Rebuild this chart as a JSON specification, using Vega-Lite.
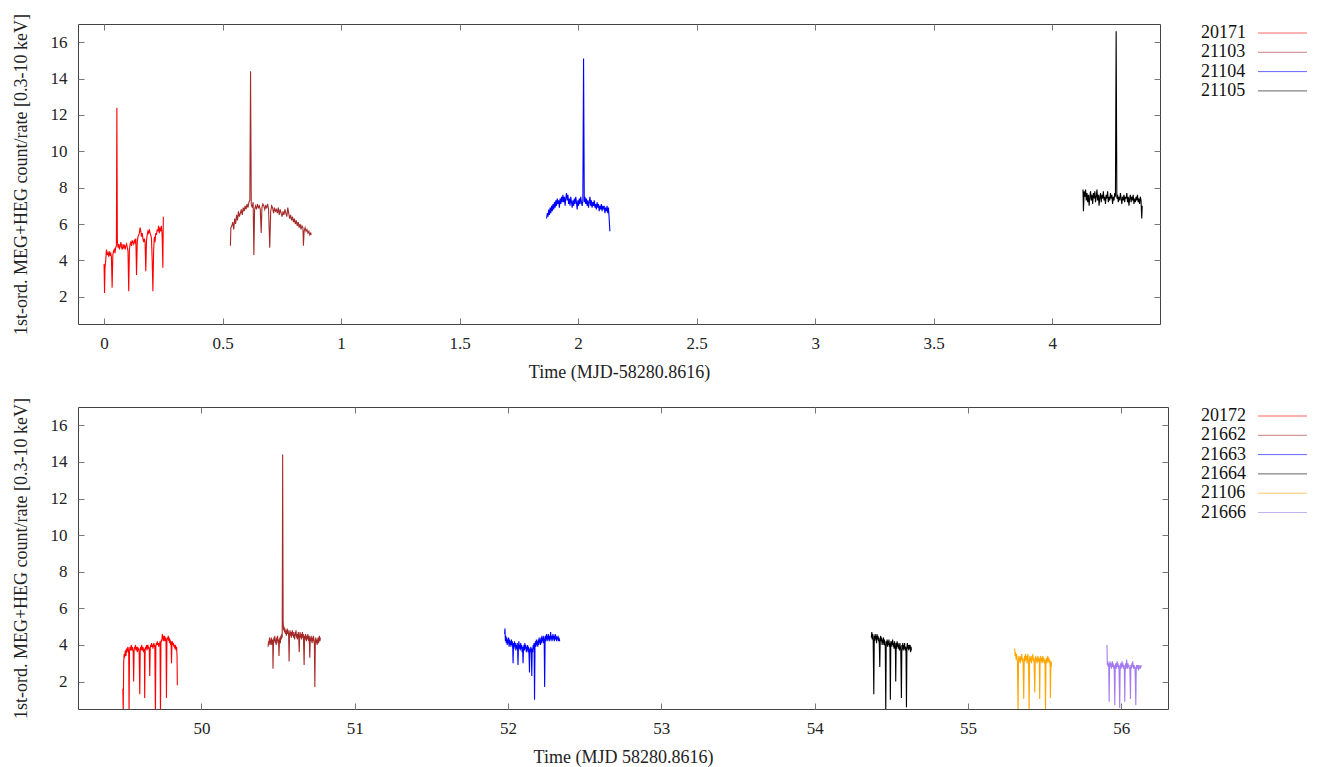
{
"$schema":"https://vega.github.io/schema/vega-lite/v6.json",
"padding":{"left":11,"top":12,"right":5,"bottom":5},
"config":{
 "font":"Liberation Serif",
 "view":{"stroke":"#444","strokeWidth":1},
 "style":{"guide-label":{"font":"Liberation Serif","fontSize":17,"fill":"#222"},"guide-title":{"font":"Liberation Serif","fontSize":18,"fontWeight":"normal","fill":"#222"}},
 "axis":{"grid":false,"domain":false,"tickColor":"#777","tickSize":-6,"labelFont":"Liberation Serif","titleFont":"Liberation Serif","labelFontSize":17,"titleFontSize":18,"titleFontWeight":"normal","labelColor":"#222","titleColor":"#222","labelPadding":17},
 "legend":{"title":null,"symbolType":"M14.0,0H23.8","symbolSize":100,"symbolStrokeWidth":1,"symbolOpacity":0.6,"labelFont":"Liberation Serif","labelFontSize":18,"labelColor":"#111","rowPadding":1.3,"padding":0,"labelOffset":4}
},
"datasets":{
"top":[
{"s":"20171","t":0.000,"r":3.8},{"s":"20171","t":0.002,"r":2.2},{"s":"20171","t":0.004,"r":3.6},{"s":"20171","t":0.007,"r":4.0},{"s":"20171","t":0.010,"r":4.6},{"s":"20171","t":0.013,"r":4.3},{"s":"20171","t":0.016,"r":4.4},{"s":"20171","t":0.019,"r":4.2},{"s":"20171","t":0.022,"r":4.5},{"s":"20171","t":0.025,"r":4.3},{"s":"20171","t":0.028,"r":4.4},{"s":"20171","t":0.031,"r":4.2},{"s":"20171","t":0.034,"r":2.5},{"s":"20171","t":0.037,"r":4.3},{"s":"20171","t":0.040,"r":4.5},{"s":"20171","t":0.043,"r":4.6},{"s":"20171","t":0.046,"r":4.4},{"s":"20171","t":0.049,"r":4.7},{"s":"20171","t":0.052,"r":4.8},{"s":"20171","t":0.054,"r":12.4},{"s":"20171","t":0.056,"r":5.1},{"s":"20171","t":0.059,"r":4.7},{"s":"20171","t":0.062,"r":4.9},{"s":"20171","t":0.065,"r":4.6},{"s":"20171","t":0.068,"r":4.8},{"s":"20171","t":0.071,"r":5.0},{"s":"20171","t":0.074,"r":4.7},{"s":"20171","t":0.077,"r":4.6},{"s":"20171","t":0.080,"r":4.9},{"s":"20171","t":0.083,"r":4.7},{"s":"20171","t":0.086,"r":4.8},{"s":"20171","t":0.089,"r":4.6},{"s":"20171","t":0.092,"r":4.8},{"s":"20171","t":0.095,"r":4.9},{"s":"20171","t":0.098,"r":4.7},{"s":"20171","t":0.101,"r":4.5},{"s":"20171","t":0.104,"r":2.3},{"s":"20171","t":0.107,"r":4.6},{"s":"20171","t":0.110,"r":4.9},{"s":"20171","t":0.113,"r":5.0},{"s":"20171","t":0.116,"r":4.8},{"s":"20171","t":0.119,"r":5.1},{"s":"20171","t":0.122,"r":5.0},{"s":"20171","t":0.125,"r":4.9},{"s":"20171","t":0.128,"r":5.1},{"s":"20171","t":0.131,"r":5.0},{"s":"20171","t":0.134,"r":5.2},{"s":"20171","t":0.137,"r":3.2},{"s":"20171","t":0.140,"r":5.0},{"s":"20171","t":0.143,"r":5.3},{"s":"20171","t":0.146,"r":5.4},{"s":"20171","t":0.149,"r":5.5},{"s":"20171","t":0.152,"r":5.8},{"s":"20171","t":0.155,"r":5.6},{"s":"20171","t":0.158,"r":5.3},{"s":"20171","t":0.161,"r":5.5},{"s":"20171","t":0.164,"r":5.2},{"s":"20171","t":0.167,"r":5.0},{"s":"20171","t":0.170,"r":5.2},{"s":"20171","t":0.173,"r":5.0},{"s":"20171","t":0.176,"r":3.4},{"s":"20171","t":0.179,"r":5.1},{"s":"20171","t":0.182,"r":5.4},{"s":"20171","t":0.185,"r":5.6},{"s":"20171","t":0.188,"r":5.5},{"s":"20171","t":0.191,"r":5.7},{"s":"20171","t":0.194,"r":5.5},{"s":"20171","t":0.197,"r":5.4},{"s":"20171","t":0.200,"r":5.2},{"s":"20171","t":0.203,"r":4.0},{"s":"20171","t":0.206,"r":2.3},{"s":"20171","t":0.209,"r":4.5},{"s":"20171","t":0.212,"r":5.3},{"s":"20171","t":0.215,"r":5.0},{"s":"20171","t":0.218,"r":5.5},{"s":"20171","t":0.221,"r":5.4},{"s":"20171","t":0.224,"r":5.7},{"s":"20171","t":0.227,"r":5.6},{"s":"20171","t":0.230,"r":5.9},{"s":"20171","t":0.233,"r":5.5},{"s":"20171","t":0.236,"r":5.8},{"s":"20171","t":0.239,"r":5.6},{"s":"20171","t":0.242,"r":5.9},{"s":"20171","t":0.245,"r":5.4},{"s":"20171","t":0.248,"r":3.6},{"s":"20171","t":0.250,"r":6.4},
{"s":"21103","t":0.533,"r":4.8},{"s":"21103","t":0.535,"r":5.8},{"s":"21103","t":0.539,"r":5.9},{"s":"21103","t":0.543,"r":6.1},{"s":"21103","t":0.547,"r":5.7},{"s":"21103","t":0.551,"r":6.3},{"s":"21103","t":0.555,"r":6.0},{"s":"21103","t":0.559,"r":6.5},{"s":"21103","t":0.563,"r":6.2},{"s":"21103","t":0.567,"r":6.7},{"s":"21103","t":0.571,"r":6.4},{"s":"21103","t":0.575,"r":6.6},{"s":"21103","t":0.579,"r":6.8},{"s":"21103","t":0.583,"r":6.5},{"s":"21103","t":0.587,"r":6.9},{"s":"21103","t":0.591,"r":6.7},{"s":"21103","t":0.595,"r":7.0},{"s":"21103","t":0.599,"r":6.8},{"s":"21103","t":0.603,"r":7.1},{"s":"21103","t":0.607,"r":6.9},{"s":"21103","t":0.611,"r":7.2},{"s":"21103","t":0.615,"r":7.3},{"s":"21103","t":0.618,"r":14.4},{"s":"21103","t":0.621,"r":7.1},{"s":"21103","t":0.625,"r":6.9},{"s":"21103","t":0.629,"r":7.2},{"s":"21103","t":0.632,"r":4.3},{"s":"21103","t":0.635,"r":6.8},{"s":"21103","t":0.639,"r":7.0},{"s":"21103","t":0.643,"r":6.8},{"s":"21103","t":0.647,"r":7.1},{"s":"21103","t":0.651,"r":6.9},{"s":"21103","t":0.655,"r":7.0},{"s":"21103","t":0.659,"r":6.8},{"s":"21103","t":0.663,"r":5.5},{"s":"21103","t":0.666,"r":6.9},{"s":"21103","t":0.670,"r":7.1},{"s":"21103","t":0.674,"r":7.0},{"s":"21103","t":0.678,"r":6.8},{"s":"21103","t":0.682,"r":7.0},{"s":"21103","t":0.686,"r":6.9},{"s":"21103","t":0.690,"r":7.1},{"s":"21103","t":0.694,"r":6.8},{"s":"21103","t":0.699,"r":4.7},{"s":"21103","t":0.703,"r":6.7},{"s":"21103","t":0.707,"r":7.0},{"s":"21103","t":0.711,"r":6.9},{"s":"21103","t":0.715,"r":6.6},{"s":"21103","t":0.719,"r":6.9},{"s":"21103","t":0.723,"r":6.7},{"s":"21103","t":0.727,"r":6.8},{"s":"21103","t":0.731,"r":6.6},{"s":"21103","t":0.735,"r":6.9},{"s":"21103","t":0.739,"r":6.5},{"s":"21103","t":0.743,"r":6.8},{"s":"21103","t":0.747,"r":6.6},{"s":"21103","t":0.751,"r":6.4},{"s":"21103","t":0.755,"r":6.7},{"s":"21103","t":0.759,"r":6.5},{"s":"21103","t":0.763,"r":6.8},{"s":"21103","t":0.767,"r":6.6},{"s":"21103","t":0.771,"r":6.4},{"s":"21103","t":0.775,"r":6.9},{"s":"21103","t":0.779,"r":6.6},{"s":"21103","t":0.783,"r":6.3},{"s":"21103","t":0.787,"r":6.5},{"s":"21103","t":0.791,"r":6.2},{"s":"21103","t":0.795,"r":6.4},{"s":"21103","t":0.799,"r":6.1},{"s":"21103","t":0.803,"r":6.3},{"s":"21103","t":0.807,"r":6.0},{"s":"21103","t":0.811,"r":6.2},{"s":"21103","t":0.815,"r":5.9},{"s":"21103","t":0.819,"r":6.1},{"s":"21103","t":0.823,"r":5.8},{"s":"21103","t":0.827,"r":6.0},{"s":"21103","t":0.831,"r":5.7},{"s":"21103","t":0.835,"r":5.9},{"s":"21103","t":0.839,"r":5.8},{"s":"21103","t":0.841,"r":4.8},{"s":"21103","t":0.844,"r":5.6},{"s":"21103","t":0.848,"r":5.8},{"s":"21103","t":0.852,"r":5.6},{"s":"21103","t":0.856,"r":5.7},{"s":"21103","t":0.860,"r":5.5},{"s":"21103","t":0.864,"r":5.6},{"s":"21103","t":0.868,"r":5.4},{"s":"21103","t":0.872,"r":5.5},{"s":"21103","t":0.874,"r":5.4},
{"s":"21104","t":1.867,"r":6.3},{"s":"21104","t":1.870,"r":6.6},{"s":"21104","t":1.873,"r":6.4},{"s":"21104","t":1.876,"r":6.8},{"s":"21104","t":1.879,"r":6.5},{"s":"21104","t":1.882,"r":6.9},{"s":"21104","t":1.885,"r":6.6},{"s":"21104","t":1.888,"r":7.0},{"s":"21104","t":1.891,"r":6.7},{"s":"21104","t":1.894,"r":7.1},{"s":"21104","t":1.897,"r":6.8},{"s":"21104","t":1.900,"r":7.2},{"s":"21104","t":1.903,"r":6.9},{"s":"21104","t":1.906,"r":7.3},{"s":"21104","t":1.909,"r":7.0},{"s":"21104","t":1.912,"r":7.4},{"s":"21104","t":1.915,"r":7.1},{"s":"21104","t":1.918,"r":7.3},{"s":"21104","t":1.921,"r":6.9},{"s":"21104","t":1.924,"r":7.4},{"s":"21104","t":1.927,"r":7.1},{"s":"21104","t":1.930,"r":7.5},{"s":"21104","t":1.933,"r":7.2},{"s":"21104","t":1.936,"r":7.6},{"s":"21104","t":1.939,"r":7.2},{"s":"21104","t":1.942,"r":7.5},{"s":"21104","t":1.945,"r":7.0},{"s":"21104","t":1.948,"r":7.4},{"s":"21104","t":1.951,"r":7.7},{"s":"21104","t":1.954,"r":7.3},{"s":"21104","t":1.957,"r":7.6},{"s":"21104","t":1.960,"r":7.1},{"s":"21104","t":1.963,"r":7.4},{"s":"21104","t":1.966,"r":7.0},{"s":"21104","t":1.969,"r":7.5},{"s":"21104","t":1.972,"r":7.2},{"s":"21104","t":1.975,"r":6.9},{"s":"21104","t":1.978,"r":7.3},{"s":"21104","t":1.981,"r":7.0},{"s":"21104","t":1.984,"r":7.4},{"s":"21104","t":1.987,"r":7.1},{"s":"21104","t":1.990,"r":7.5},{"s":"21104","t":1.993,"r":7.2},{"s":"21104","t":1.996,"r":6.8},{"s":"21104","t":1.999,"r":7.3},{"s":"21104","t":2.002,"r":7.0},{"s":"21104","t":2.005,"r":7.4},{"s":"21104","t":2.008,"r":7.1},{"s":"21104","t":2.011,"r":7.5},{"s":"21104","t":2.014,"r":7.2},{"s":"21104","t":2.017,"r":7.0},{"s":"21104","t":2.020,"r":7.3},{"s":"21104","t":2.023,"r":15.1},{"s":"21104","t":2.026,"r":7.2},{"s":"21104","t":2.029,"r":7.5},{"s":"21104","t":2.032,"r":7.1},{"s":"21104","t":2.035,"r":7.4},{"s":"21104","t":2.038,"r":7.0},{"s":"21104","t":2.041,"r":7.3},{"s":"21104","t":2.044,"r":6.9},{"s":"21104","t":2.047,"r":7.2},{"s":"21104","t":2.050,"r":7.5},{"s":"21104","t":2.053,"r":7.0},{"s":"21104","t":2.056,"r":7.3},{"s":"21104","t":2.059,"r":6.9},{"s":"21104","t":2.062,"r":7.2},{"s":"21104","t":2.065,"r":7.0},{"s":"21104","t":2.068,"r":7.3},{"s":"21104","t":2.071,"r":6.9},{"s":"21104","t":2.074,"r":7.1},{"s":"21104","t":2.077,"r":6.8},{"s":"21104","t":2.080,"r":7.2},{"s":"21104","t":2.083,"r":6.9},{"s":"21104","t":2.086,"r":7.1},{"s":"21104","t":2.089,"r":6.7},{"s":"21104","t":2.092,"r":7.0},{"s":"21104","t":2.095,"r":6.8},{"s":"21104","t":2.098,"r":7.1},{"s":"21104","t":2.101,"r":6.7},{"s":"21104","t":2.104,"r":7.0},{"s":"21104","t":2.107,"r":6.8},{"s":"21104","t":2.110,"r":7.0},{"s":"21104","t":2.113,"r":6.6},{"s":"21104","t":2.116,"r":6.9},{"s":"21104","t":2.119,"r":6.7},{"s":"21104","t":2.122,"r":7.0},{"s":"21104","t":2.125,"r":6.6},{"s":"21104","t":2.128,"r":6.9},{"s":"21104","t":2.131,"r":6.3},{"s":"21104","t":2.134,"r":5.6},
{"s":"21105","t":4.130,"r":7.9},{"s":"21105","t":4.132,"r":6.7},{"s":"21105","t":4.135,"r":7.8},{"s":"21105","t":4.138,"r":7.5},{"s":"21105","t":4.141,"r":7.9},{"s":"21105","t":4.144,"r":7.3},{"s":"21105","t":4.147,"r":7.7},{"s":"21105","t":4.150,"r":7.2},{"s":"21105","t":4.153,"r":7.6},{"s":"21105","t":4.156,"r":7.0},{"s":"21105","t":4.159,"r":7.5},{"s":"21105","t":4.162,"r":7.8},{"s":"21105","t":4.165,"r":7.3},{"s":"21105","t":4.168,"r":7.6},{"s":"21105","t":4.171,"r":7.1},{"s":"21105","t":4.174,"r":7.7},{"s":"21105","t":4.177,"r":7.4},{"s":"21105","t":4.180,"r":7.8},{"s":"21105","t":4.183,"r":7.2},{"s":"21105","t":4.186,"r":7.5},{"s":"21105","t":4.189,"r":7.9},{"s":"21105","t":4.192,"r":7.3},{"s":"21105","t":4.195,"r":7.6},{"s":"21105","t":4.198,"r":7.0},{"s":"21105","t":4.201,"r":7.5},{"s":"21105","t":4.204,"r":7.7},{"s":"21105","t":4.207,"r":7.2},{"s":"21105","t":4.210,"r":7.6},{"s":"21105","t":4.213,"r":7.4},{"s":"21105","t":4.216,"r":7.8},{"s":"21105","t":4.219,"r":7.3},{"s":"21105","t":4.222,"r":7.5},{"s":"21105","t":4.225,"r":7.1},{"s":"21105","t":4.228,"r":7.6},{"s":"21105","t":4.231,"r":7.4},{"s":"21105","t":4.234,"r":7.8},{"s":"21105","t":4.237,"r":7.2},{"s":"21105","t":4.240,"r":7.5},{"s":"21105","t":4.243,"r":7.3},{"s":"21105","t":4.246,"r":7.7},{"s":"21105","t":4.249,"r":7.4},{"s":"21105","t":4.252,"r":7.6},{"s":"21105","t":4.255,"r":7.1},{"s":"21105","t":4.258,"r":7.5},{"s":"21105","t":4.261,"r":7.3},{"s":"21105","t":4.264,"r":7.7},{"s":"21105","t":4.267,"r":7.5},{"s":"21105","t":4.270,"r":16.6},{"s":"21105","t":4.273,"r":7.4},{"s":"21105","t":4.276,"r":7.6},{"s":"21105","t":4.279,"r":7.2},{"s":"21105","t":4.282,"r":7.5},{"s":"21105","t":4.285,"r":7.3},{"s":"21105","t":4.288,"r":7.7},{"s":"21105","t":4.291,"r":7.4},{"s":"21105","t":4.294,"r":7.1},{"s":"21105","t":4.297,"r":7.5},{"s":"21105","t":4.300,"r":7.3},{"s":"21105","t":4.303,"r":7.6},{"s":"21105","t":4.306,"r":7.2},{"s":"21105","t":4.309,"r":7.5},{"s":"21105","t":4.312,"r":7.4},{"s":"21105","t":4.315,"r":7.7},{"s":"21105","t":4.318,"r":7.2},{"s":"21105","t":4.321,"r":7.5},{"s":"21105","t":4.324,"r":7.0},{"s":"21105","t":4.327,"r":7.4},{"s":"21105","t":4.330,"r":7.6},{"s":"21105","t":4.333,"r":7.2},{"s":"21105","t":4.336,"r":7.5},{"s":"21105","t":4.339,"r":7.3},{"s":"21105","t":4.342,"r":7.6},{"s":"21105","t":4.345,"r":7.1},{"s":"21105","t":4.348,"r":7.4},{"s":"21105","t":4.351,"r":7.2},{"s":"21105","t":4.354,"r":7.5},{"s":"21105","t":4.357,"r":7.3},{"s":"21105","t":4.360,"r":7.6},{"s":"21105","t":4.363,"r":7.2},{"s":"21105","t":4.366,"r":7.4},{"s":"21105","t":4.369,"r":7.1},{"s":"21105","t":4.372,"r":7.5},{"s":"21105","t":4.375,"r":7.3},{"s":"21105","t":4.378,"r":6.3},{"s":"21105","t":4.380,"r":7.0}
],
"bottom":[
{"s":"20172","t":49.488,"r":1.6},{"s":"20172","t":49.490,"r":0.2},{"s":"20172","t":49.493,"r":3.0},{"s":"20172","t":49.496,"r":3.5},{"s":"20172","t":49.499,"r":3.3},{"s":"20172","t":49.502,"r":3.6},{"s":"20172","t":49.505,"r":3.7},{"s":"20172","t":49.508,"r":3.4},{"s":"20172","t":49.511,"r":3.8},{"s":"20172","t":49.514,"r":3.6},{"s":"20172","t":49.517,"r":3.7},{"s":"20172","t":49.520,"r":3.9},{"s":"20172","t":49.523,"r":3.8},{"s":"20172","t":49.526,"r":3.5},{"s":"20172","t":49.528,"r":0.2},{"s":"20172","t":49.531,"r":3.6},{"s":"20172","t":49.534,"r":3.9},{"s":"20172","t":49.537,"r":3.7},{"s":"20172","t":49.540,"r":3.8},{"s":"20172","t":49.543,"r":4.0},{"s":"20172","t":49.546,"r":3.7},{"s":"20172","t":49.549,"r":3.9},{"s":"20172","t":49.552,"r":3.8},{"s":"20172","t":49.555,"r":3.6},{"s":"20172","t":49.558,"r":2.0},{"s":"20172","t":49.561,"r":3.7},{"s":"20172","t":49.564,"r":3.9},{"s":"20172","t":49.567,"r":3.8},{"s":"20172","t":49.570,"r":4.0},{"s":"20172","t":49.573,"r":3.7},{"s":"20172","t":49.576,"r":3.9},{"s":"20172","t":49.579,"r":3.8},{"s":"20172","t":49.582,"r":3.6},{"s":"20172","t":49.585,"r":3.9},{"s":"20172","t":49.588,"r":3.7},{"s":"20172","t":49.591,"r":3.8},{"s":"20172","t":49.594,"r":3.6},{"s":"20172","t":49.598,"r":1.3},{"s":"20172","t":49.601,"r":3.8},{"s":"20172","t":49.604,"r":3.9},{"s":"20172","t":49.607,"r":3.7},{"s":"20172","t":49.610,"r":4.0},{"s":"20172","t":49.613,"r":3.8},{"s":"20172","t":49.616,"r":3.7},{"s":"20172","t":49.619,"r":3.9},{"s":"20172","t":49.622,"r":3.6},{"s":"20172","t":49.625,"r":3.8},{"s":"20172","t":49.628,"r":3.7},{"s":"20172","t":49.630,"r":1.1},{"s":"20172","t":49.633,"r":3.7},{"s":"20172","t":49.636,"r":3.9},{"s":"20172","t":49.639,"r":3.8},{"s":"20172","t":49.642,"r":4.0},{"s":"20172","t":49.645,"r":3.7},{"s":"20172","t":49.648,"r":3.9},{"s":"20172","t":49.651,"r":4.0},{"s":"20172","t":49.654,"r":3.8},{"s":"20172","t":49.657,"r":3.9},{"s":"20172","t":49.660,"r":3.7},{"s":"20172","t":49.663,"r":2.3},{"s":"20172","t":49.666,"r":3.8},{"s":"20172","t":49.669,"r":4.0},{"s":"20172","t":49.672,"r":3.9},{"s":"20172","t":49.675,"r":4.1},{"s":"20172","t":49.678,"r":3.9},{"s":"20172","t":49.681,"r":4.0},{"s":"20172","t":49.684,"r":3.8},{"s":"20172","t":49.687,"r":4.0},{"s":"20172","t":49.690,"r":4.1},{"s":"20172","t":49.693,"r":3.9},{"s":"20172","t":49.696,"r":4.0},{"s":"20172","t":49.700,"r":0.2},{"s":"20172","t":49.703,"r":3.9},{"s":"20172","t":49.706,"r":4.1},{"s":"20172","t":49.709,"r":4.0},{"s":"20172","t":49.712,"r":4.2},{"s":"20172","t":49.715,"r":4.0},{"s":"20172","t":49.718,"r":4.1},{"s":"20172","t":49.721,"r":3.9},{"s":"20172","t":49.724,"r":4.1},{"s":"20172","t":49.727,"r":4.0},{"s":"20172","t":49.730,"r":4.2},{"s":"20172","t":49.733,"r":0.2},{"s":"20172","t":49.736,"r":4.1},{"s":"20172","t":49.739,"r":4.3},{"s":"20172","t":49.742,"r":4.2},{"s":"20172","t":49.745,"r":4.6},{"s":"20172","t":49.748,"r":4.3},{"s":"20172","t":49.751,"r":4.5},{"s":"20172","t":49.754,"r":4.2},{"s":"20172","t":49.757,"r":4.4},{"s":"20172","t":49.760,"r":4.5},{"s":"20172","t":49.763,"r":4.2},{"s":"20172","t":49.766,"r":4.4},{"s":"20172","t":49.769,"r":4.3},{"s":"20172","t":49.772,"r":1.1},{"s":"20172","t":49.775,"r":4.2},{"s":"20172","t":49.778,"r":4.4},{"s":"20172","t":49.781,"r":4.3},{"s":"20172","t":49.784,"r":4.5},{"s":"20172","t":49.787,"r":4.2},{"s":"20172","t":49.790,"r":4.4},{"s":"20172","t":49.793,"r":4.1},{"s":"20172","t":49.796,"r":4.3},{"s":"20172","t":49.799,"r":4.0},{"s":"20172","t":49.802,"r":4.2},{"s":"20172","t":49.805,"r":3.0},{"s":"20172","t":49.808,"r":4.1},{"s":"20172","t":49.811,"r":4.2},{"s":"20172","t":49.814,"r":4.0},{"s":"20172","t":49.817,"r":4.1},{"s":"20172","t":49.820,"r":3.9},{"s":"20172","t":49.823,"r":4.0},{"s":"20172","t":49.826,"r":3.8},{"s":"20172","t":49.829,"r":4.0},{"s":"20172","t":49.832,"r":3.9},{"s":"20172","t":49.835,"r":3.7},{"s":"20172","t":49.838,"r":3.9},{"s":"20172","t":49.841,"r":3.4},{"s":"20172","t":49.843,"r":1.8},
{"s":"21662","t":50.435,"r":3.9},{"s":"21662","t":50.438,"r":4.2},{"s":"21662","t":50.441,"r":4.0},{"s":"21662","t":50.444,"r":4.4},{"s":"21662","t":50.447,"r":4.1},{"s":"21662","t":50.450,"r":4.3},{"s":"21662","t":50.453,"r":4.0},{"s":"21662","t":50.456,"r":4.4},{"s":"21662","t":50.459,"r":4.2},{"s":"21662","t":50.462,"r":4.0},{"s":"21662","t":50.465,"r":4.3},{"s":"21662","t":50.467,"r":2.7},{"s":"21662","t":50.470,"r":4.1},{"s":"21662","t":50.473,"r":4.4},{"s":"21662","t":50.476,"r":4.2},{"s":"21662","t":50.479,"r":4.5},{"s":"21662","t":50.482,"r":4.1},{"s":"21662","t":50.485,"r":4.3},{"s":"21662","t":50.488,"r":4.0},{"s":"21662","t":50.491,"r":4.4},{"s":"21662","t":50.494,"r":4.2},{"s":"21662","t":50.497,"r":4.5},{"s":"21662","t":50.500,"r":4.1},{"s":"21662","t":50.503,"r":4.3},{"s":"21662","t":50.506,"r":3.4},{"s":"21662","t":50.509,"r":4.2},{"s":"21662","t":50.512,"r":4.4},{"s":"21662","t":50.515,"r":4.1},{"s":"21662","t":50.518,"r":4.5},{"s":"21662","t":50.521,"r":4.3},{"s":"21662","t":50.524,"r":4.6},{"s":"21662","t":50.527,"r":4.4},{"s":"21662","t":50.530,"r":14.4},{"s":"21662","t":50.533,"r":5.3},{"s":"21662","t":50.536,"r":4.8},{"s":"21662","t":50.539,"r":5.0},{"s":"21662","t":50.542,"r":4.7},{"s":"21662","t":50.545,"r":4.9},{"s":"21662","t":50.548,"r":4.6},{"s":"21662","t":50.551,"r":4.8},{"s":"21662","t":50.554,"r":4.5},{"s":"21662","t":50.557,"r":4.7},{"s":"21662","t":50.560,"r":4.9},{"s":"21662","t":50.563,"r":4.6},{"s":"21662","t":50.566,"r":4.8},{"s":"21662","t":50.569,"r":4.5},{"s":"21662","t":50.572,"r":3.1},{"s":"21662","t":50.575,"r":4.6},{"s":"21662","t":50.578,"r":4.8},{"s":"21662","t":50.581,"r":4.5},{"s":"21662","t":50.584,"r":4.7},{"s":"21662","t":50.587,"r":4.4},{"s":"21662","t":50.590,"r":4.6},{"s":"21662","t":50.593,"r":4.8},{"s":"21662","t":50.596,"r":4.5},{"s":"21662","t":50.599,"r":4.7},{"s":"21662","t":50.602,"r":4.4},{"s":"21662","t":50.605,"r":4.6},{"s":"21662","t":50.608,"r":4.3},{"s":"21662","t":50.611,"r":4.7},{"s":"21662","t":50.614,"r":4.5},{"s":"21662","t":50.617,"r":4.8},{"s":"21662","t":50.620,"r":4.4},{"s":"21662","t":50.623,"r":4.6},{"s":"21662","t":50.626,"r":4.3},{"s":"21662","t":50.629,"r":4.5},{"s":"21662","t":50.632,"r":4.7},{"s":"21662","t":50.635,"r":4.4},{"s":"21662","t":50.638,"r":3.6},{"s":"21662","t":50.641,"r":4.5},{"s":"21662","t":50.644,"r":4.7},{"s":"21662","t":50.647,"r":4.4},{"s":"21662","t":50.650,"r":4.6},{"s":"21662","t":50.653,"r":4.3},{"s":"21662","t":50.656,"r":4.5},{"s":"21662","t":50.659,"r":4.7},{"s":"21662","t":50.662,"r":4.4},{"s":"21662","t":50.665,"r":4.6},{"s":"21662","t":50.670,"r":2.9},{"s":"21662","t":50.673,"r":4.5},{"s":"21662","t":50.676,"r":4.3},{"s":"21662","t":50.679,"r":4.6},{"s":"21662","t":50.682,"r":4.4},{"s":"21662","t":50.685,"r":4.2},{"s":"21662","t":50.688,"r":4.5},{"s":"21662","t":50.691,"r":4.3},{"s":"21662","t":50.694,"r":4.6},{"s":"21662","t":50.697,"r":4.4},{"s":"21662","t":50.700,"r":4.2},{"s":"21662","t":50.703,"r":4.5},{"s":"21662","t":50.707,"r":3.3},{"s":"21662","t":50.710,"r":4.4},{"s":"21662","t":50.713,"r":4.2},{"s":"21662","t":50.716,"r":4.5},{"s":"21662","t":50.719,"r":4.3},{"s":"21662","t":50.722,"r":4.1},{"s":"21662","t":50.725,"r":4.4},{"s":"21662","t":50.728,"r":4.2},{"s":"21662","t":50.731,"r":4.5},{"s":"21662","t":50.734,"r":4.3},{"s":"21662","t":50.737,"r":4.0},{"s":"21662","t":50.740,"r":1.7},{"s":"21662","t":50.743,"r":4.2},{"s":"21662","t":50.746,"r":4.4},{"s":"21662","t":50.749,"r":4.1},{"s":"21662","t":50.752,"r":4.3},{"s":"21662","t":50.755,"r":4.0},{"s":"21662","t":50.758,"r":4.2},{"s":"21662","t":50.761,"r":4.4},{"s":"21662","t":50.764,"r":4.1},{"s":"21662","t":50.767,"r":4.3},{"s":"21662","t":50.770,"r":4.5},{"s":"21662","t":50.773,"r":4.2},{"s":"21662","t":50.776,"r":4.4},
{"s":"21663","t":51.978,"r":4.6},{"s":"21663","t":51.980,"r":4.9},{"s":"21663","t":51.983,"r":4.2},{"s":"21663","t":51.986,"r":4.5},{"s":"21663","t":51.989,"r":4.1},{"s":"21663","t":51.992,"r":4.4},{"s":"21663","t":51.995,"r":4.0},{"s":"21663","t":51.998,"r":4.3},{"s":"21663","t":52.001,"r":4.1},{"s":"21663","t":52.004,"r":4.4},{"s":"21663","t":52.007,"r":3.9},{"s":"21663","t":52.010,"r":4.3},{"s":"21663","t":52.013,"r":4.0},{"s":"21663","t":52.016,"r":4.2},{"s":"21663","t":52.019,"r":3.9},{"s":"21663","t":52.022,"r":4.3},{"s":"21663","t":52.025,"r":4.0},{"s":"21663","t":52.028,"r":4.2},{"s":"21663","t":52.031,"r":3.8},{"s":"21663","t":52.033,"r":3.0},{"s":"21663","t":52.036,"r":4.1},{"s":"21663","t":52.039,"r":3.8},{"s":"21663","t":52.042,"r":4.2},{"s":"21663","t":52.045,"r":3.9},{"s":"21663","t":52.048,"r":4.1},{"s":"21663","t":52.051,"r":3.7},{"s":"21663","t":52.054,"r":4.0},{"s":"21663","t":52.057,"r":3.8},{"s":"21663","t":52.060,"r":4.1},{"s":"21663","t":52.063,"r":3.7},{"s":"21663","t":52.065,"r":2.9},{"s":"21663","t":52.068,"r":3.9},{"s":"21663","t":52.071,"r":4.2},{"s":"21663","t":52.074,"r":3.8},{"s":"21663","t":52.077,"r":4.0},{"s":"21663","t":52.080,"r":3.7},{"s":"21663","t":52.083,"r":4.1},{"s":"21663","t":52.086,"r":3.8},{"s":"21663","t":52.089,"r":4.0},{"s":"21663","t":52.092,"r":3.6},{"s":"21663","t":52.095,"r":3.9},{"s":"21663","t":52.098,"r":3.0},{"s":"21663","t":52.101,"r":3.8},{"s":"21663","t":52.104,"r":4.0},{"s":"21663","t":52.107,"r":3.7},{"s":"21663","t":52.110,"r":4.1},{"s":"21663","t":52.113,"r":3.8},{"s":"21663","t":52.116,"r":4.0},{"s":"21663","t":52.119,"r":3.6},{"s":"21663","t":52.122,"r":3.9},{"s":"21663","t":52.125,"r":3.7},{"s":"21663","t":52.128,"r":4.0},{"s":"21663","t":52.131,"r":3.6},{"s":"21663","t":52.134,"r":3.9},{"s":"21663","t":52.137,"r":3.5},{"s":"21663","t":52.140,"r":2.5},{"s":"21663","t":52.143,"r":3.8},{"s":"21663","t":52.146,"r":3.6},{"s":"21663","t":52.149,"r":3.9},{"s":"21663","t":52.152,"r":3.7},{"s":"21663","t":52.155,"r":2.3},{"s":"21663","t":52.158,"r":3.8},{"s":"21663","t":52.161,"r":3.6},{"s":"21663","t":52.164,"r":4.0},{"s":"21663","t":52.167,"r":3.8},{"s":"21663","t":52.170,"r":4.1},{"s":"21663","t":52.173,"r":1.0},{"s":"21663","t":52.176,"r":3.9},{"s":"21663","t":52.179,"r":4.2},{"s":"21663","t":52.182,"r":3.9},{"s":"21663","t":52.185,"r":4.3},{"s":"21663","t":52.188,"r":4.0},{"s":"21663","t":52.191,"r":4.2},{"s":"21663","t":52.194,"r":3.9},{"s":"21663","t":52.197,"r":4.3},{"s":"21663","t":52.200,"r":4.0},{"s":"21663","t":52.203,"r":4.4},{"s":"21663","t":52.206,"r":4.1},{"s":"21663","t":52.209,"r":4.3},{"s":"21663","t":52.212,"r":4.0},{"s":"21663","t":52.215,"r":4.4},{"s":"21663","t":52.218,"r":4.1},{"s":"21663","t":52.221,"r":4.5},{"s":"21663","t":52.224,"r":4.2},{"s":"21663","t":52.227,"r":4.4},{"s":"21663","t":52.230,"r":4.1},{"s":"21663","t":52.233,"r":4.5},{"s":"21663","t":52.236,"r":4.2},{"s":"21663","t":52.239,"r":1.7},{"s":"21663","t":52.242,"r":4.3},{"s":"21663","t":52.245,"r":4.5},{"s":"21663","t":52.248,"r":4.2},{"s":"21663","t":52.251,"r":4.6},{"s":"21663","t":52.254,"r":4.3},{"s":"21663","t":52.257,"r":4.5},{"s":"21663","t":52.260,"r":4.2},{"s":"21663","t":52.263,"r":4.6},{"s":"21663","t":52.266,"r":4.3},{"s":"21663","t":52.269,"r":4.5},{"s":"21663","t":52.272,"r":4.2},{"s":"21663","t":52.275,"r":4.4},{"s":"21663","t":52.278,"r":4.7},{"s":"21663","t":52.281,"r":4.3},{"s":"21663","t":52.284,"r":4.5},{"s":"21663","t":52.287,"r":4.2},{"s":"21663","t":52.290,"r":4.4},{"s":"21663","t":52.293,"r":4.6},{"s":"21663","t":52.296,"r":4.3},{"s":"21663","t":52.299,"r":4.5},{"s":"21663","t":52.302,"r":4.2},{"s":"21663","t":52.305,"r":4.4},{"s":"21663","t":52.308,"r":4.6},{"s":"21663","t":52.311,"r":4.3},{"s":"21663","t":52.314,"r":4.5},{"s":"21663","t":52.317,"r":4.2},{"s":"21663","t":52.320,"r":4.4},{"s":"21663","t":52.323,"r":4.3},{"s":"21663","t":52.326,"r":4.5},{"s":"21663","t":52.329,"r":4.2},{"s":"21663","t":52.332,"r":4.4},{"s":"21663","t":52.335,"r":4.3},{"s":"21663","t":52.337,"r":4.2},
{"s":"21664","t":54.370,"r":4.4},{"s":"21664","t":54.373,"r":4.7},{"s":"21664","t":54.376,"r":4.3},{"s":"21664","t":54.379,"r":4.6},{"s":"21664","t":54.382,"r":4.2},{"s":"21664","t":54.386,"r":1.3},{"s":"21664","t":54.389,"r":4.5},{"s":"21664","t":54.392,"r":4.2},{"s":"21664","t":54.395,"r":4.6},{"s":"21664","t":54.398,"r":4.3},{"s":"21664","t":54.401,"r":4.5},{"s":"21664","t":54.404,"r":4.1},{"s":"21664","t":54.407,"r":4.6},{"s":"21664","t":54.410,"r":4.3},{"s":"21664","t":54.413,"r":4.5},{"s":"21664","t":54.416,"r":4.2},{"s":"21664","t":54.419,"r":4.4},{"s":"21664","t":54.422,"r":4.0},{"s":"21664","t":54.425,"r":2.8},{"s":"21664","t":54.428,"r":4.3},{"s":"21664","t":54.431,"r":4.5},{"s":"21664","t":54.434,"r":4.2},{"s":"21664","t":54.437,"r":4.4},{"s":"21664","t":54.440,"r":4.0},{"s":"21664","t":54.443,"r":4.3},{"s":"21664","t":54.446,"r":4.1},{"s":"21664","t":54.449,"r":4.4},{"s":"21664","t":54.452,"r":4.0},{"s":"21664","t":54.455,"r":4.3},{"s":"21664","t":54.458,"r":4.1},{"s":"21664","t":54.461,"r":3.9},{"s":"21664","t":54.464,"r":0.2},{"s":"21664","t":54.467,"r":4.2},{"s":"21664","t":54.470,"r":4.0},{"s":"21664","t":54.473,"r":4.3},{"s":"21664","t":54.476,"r":3.9},{"s":"21664","t":54.479,"r":4.2},{"s":"21664","t":54.482,"r":4.0},{"s":"21664","t":54.485,"r":4.3},{"s":"21664","t":54.488,"r":3.9},{"s":"21664","t":54.491,"r":4.1},{"s":"21664","t":54.494,"r":1.0},{"s":"21664","t":54.497,"r":4.2},{"s":"21664","t":54.500,"r":3.9},{"s":"21664","t":54.503,"r":4.2},{"s":"21664","t":54.506,"r":4.0},{"s":"21664","t":54.509,"r":4.3},{"s":"21664","t":54.512,"r":3.9},{"s":"21664","t":54.515,"r":4.1},{"s":"21664","t":54.518,"r":3.8},{"s":"21664","t":54.521,"r":4.2},{"s":"21664","t":54.524,"r":4.0},{"s":"21664","t":54.527,"r":3.7},{"s":"21664","t":54.529,"r":2.0},{"s":"21664","t":54.532,"r":4.1},{"s":"21664","t":54.535,"r":3.8},{"s":"21664","t":54.538,"r":4.2},{"s":"21664","t":54.541,"r":3.9},{"s":"21664","t":54.544,"r":4.1},{"s":"21664","t":54.547,"r":3.8},{"s":"21664","t":54.550,"r":4.0},{"s":"21664","t":54.553,"r":3.7},{"s":"21664","t":54.556,"r":4.1},{"s":"21664","t":54.559,"r":3.9},{"s":"21664","t":54.562,"r":3.7},{"s":"21664","t":54.566,"r":1.1},{"s":"21664","t":54.569,"r":4.0},{"s":"21664","t":54.572,"r":3.8},{"s":"21664","t":54.575,"r":4.1},{"s":"21664","t":54.578,"r":3.7},{"s":"21664","t":54.581,"r":4.0},{"s":"21664","t":54.584,"r":3.8},{"s":"21664","t":54.587,"r":4.1},{"s":"21664","t":54.590,"r":3.7},{"s":"21664","t":54.593,"r":3.9},{"s":"21664","t":54.596,"r":3.8},{"s":"21664","t":54.599,"r":0.6},{"s":"21664","t":54.602,"r":3.9},{"s":"21664","t":54.605,"r":4.1},{"s":"21664","t":54.608,"r":3.8},{"s":"21664","t":54.611,"r":4.0},{"s":"21664","t":54.614,"r":3.7},{"s":"21664","t":54.617,"r":4.0},{"s":"21664","t":54.620,"r":3.8},{"s":"21664","t":54.623,"r":4.0},{"s":"21664","t":54.626,"r":3.6},{"s":"21664","t":54.629,"r":3.9},{"s":"21664","t":54.631,"r":3.7},
{"s":"21106","t":55.305,"r":3.8},{"s":"21106","t":55.308,"r":3.4},{"s":"21106","t":55.311,"r":3.6},{"s":"21106","t":55.314,"r":3.2},{"s":"21106","t":55.317,"r":3.5},{"s":"21106","t":55.320,"r":3.3},{"s":"21106","t":55.323,"r":3.1},{"s":"21106","t":55.327,"r":0.3},{"s":"21106","t":55.330,"r":3.2},{"s":"21106","t":55.333,"r":3.4},{"s":"21106","t":55.336,"r":3.1},{"s":"21106","t":55.339,"r":3.3},{"s":"21106","t":55.342,"r":3.0},{"s":"21106","t":55.345,"r":3.4},{"s":"21106","t":55.348,"r":3.2},{"s":"21106","t":55.351,"r":3.5},{"s":"21106","t":55.354,"r":3.1},{"s":"21106","t":55.357,"r":3.3},{"s":"21106","t":55.360,"r":3.0},{"s":"21106","t":55.364,"r":1.05},{"s":"21106","t":55.367,"r":3.2},{"s":"21106","t":55.370,"r":3.4},{"s":"21106","t":55.373,"r":3.1},{"s":"21106","t":55.376,"r":3.5},{"s":"21106","t":55.379,"r":3.2},{"s":"21106","t":55.382,"r":3.4},{"s":"21106","t":55.385,"r":3.0},{"s":"21106","t":55.388,"r":3.3},{"s":"21106","t":55.391,"r":3.5},{"s":"21106","t":55.394,"r":3.1},{"s":"21106","t":55.396,"r":2.8},{"s":"21106","t":55.399,"r":0.3},{"s":"21106","t":55.402,"r":3.2},{"s":"21106","t":55.405,"r":3.4},{"s":"21106","t":55.408,"r":3.1},{"s":"21106","t":55.411,"r":3.3},{"s":"21106","t":55.414,"r":3.0},{"s":"21106","t":55.417,"r":3.4},{"s":"21106","t":55.420,"r":3.2},{"s":"21106","t":55.423,"r":3.5},{"s":"21106","t":55.426,"r":3.1},{"s":"21106","t":55.429,"r":3.3},{"s":"21106","t":55.432,"r":3.0},{"s":"21106","t":55.436,"r":1.4},{"s":"21106","t":55.439,"r":3.2},{"s":"21106","t":55.442,"r":3.4},{"s":"21106","t":55.445,"r":3.1},{"s":"21106","t":55.448,"r":3.3},{"s":"21106","t":55.451,"r":3.0},{"s":"21106","t":55.454,"r":3.2},{"s":"21106","t":55.457,"r":3.4},{"s":"21106","t":55.460,"r":3.1},{"s":"21106","t":55.463,"r":3.3},{"s":"21106","t":55.466,"r":3.0},{"s":"21106","t":55.468,"r":1.05},{"s":"21106","t":55.471,"r":3.2},{"s":"21106","t":55.474,"r":3.4},{"s":"21106","t":55.477,"r":3.1},{"s":"21106","t":55.480,"r":3.3},{"s":"21106","t":55.483,"r":3.0},{"s":"21106","t":55.486,"r":3.2},{"s":"21106","t":55.489,"r":3.4},{"s":"21106","t":55.492,"r":3.1},{"s":"21106","t":55.495,"r":3.3},{"s":"21106","t":55.498,"r":3.0},{"s":"21106","t":55.501,"r":3.2},{"s":"21106","t":55.503,"r":2.9},{"s":"21106","t":55.506,"r":0.3},{"s":"21106","t":55.509,"r":3.1},{"s":"21106","t":55.512,"r":3.3},{"s":"21106","t":55.515,"r":3.0},{"s":"21106","t":55.518,"r":3.2},{"s":"21106","t":55.521,"r":3.4},{"s":"21106","t":55.524,"r":3.1},{"s":"21106","t":55.527,"r":3.3},{"s":"21106","t":55.530,"r":3.0},{"s":"21106","t":55.533,"r":3.2},{"s":"21106","t":55.536,"r":2.9},{"s":"21106","t":55.538,"r":1.1},{"s":"21106","t":55.541,"r":3.0},{"s":"21106","t":55.543,"r":3.1},{"s":"21106","t":55.545,"r":2.8},
{"s":"21666","t":55.907,"r":4.0},{"s":"21666","t":55.909,"r":2.9},{"s":"21666","t":55.912,"r":3.1},{"s":"21666","t":55.915,"r":2.8},{"s":"21666","t":55.918,"r":3.0},{"s":"21666","t":55.921,"r":0.9},{"s":"21666","t":55.924,"r":2.9},{"s":"21666","t":55.927,"r":3.1},{"s":"21666","t":55.930,"r":2.8},{"s":"21666","t":55.933,"r":3.0},{"s":"21666","t":55.936,"r":2.7},{"s":"21666","t":55.939,"r":2.9},{"s":"21666","t":55.942,"r":3.1},{"s":"21666","t":55.945,"r":2.8},{"s":"21666","t":55.948,"r":3.0},{"s":"21666","t":55.951,"r":2.7},{"s":"21666","t":55.954,"r":2.9},{"s":"21666","t":55.958,"r":0.7},{"s":"21666","t":55.961,"r":2.8},{"s":"21666","t":55.964,"r":3.0},{"s":"21666","t":55.967,"r":2.7},{"s":"21666","t":55.970,"r":2.9},{"s":"21666","t":55.973,"r":3.1},{"s":"21666","t":55.976,"r":2.8},{"s":"21666","t":55.979,"r":3.0},{"s":"21666","t":55.982,"r":2.7},{"s":"21666","t":55.985,"r":2.9},{"s":"21666","t":55.990,"r":0.55},{"s":"21666","t":55.993,"r":2.8},{"s":"21666","t":55.996,"r":3.0},{"s":"21666","t":55.999,"r":2.7},{"s":"21666","t":56.002,"r":2.9},{"s":"21666","t":56.005,"r":3.1},{"s":"21666","t":56.008,"r":2.8},{"s":"21666","t":56.011,"r":3.0},{"s":"21666","t":56.014,"r":2.7},{"s":"21666","t":56.017,"r":2.9},{"s":"21666","t":56.020,"r":2.7},{"s":"21666","t":56.023,"r":0.9},{"s":"21666","t":56.026,"r":2.8},{"s":"21666","t":56.029,"r":3.0},{"s":"21666","t":56.032,"r":2.7},{"s":"21666","t":56.035,"r":3.2},{"s":"21666","t":56.038,"r":2.9},{"s":"21666","t":56.041,"r":2.7},{"s":"21666","t":56.044,"r":3.0},{"s":"21666","t":56.047,"r":2.8},{"s":"21666","t":56.050,"r":2.9},{"s":"21666","t":56.053,"r":2.7},{"s":"21666","t":56.056,"r":2.8},{"s":"21666","t":56.060,"r":1.05},{"s":"21666","t":56.063,"r":2.9},{"s":"21666","t":56.066,"r":2.7},{"s":"21666","t":56.069,"r":3.0},{"s":"21666","t":56.072,"r":2.8},{"s":"21666","t":56.075,"r":3.1},{"s":"21666","t":56.078,"r":2.8},{"s":"21666","t":56.081,"r":2.7},{"s":"21666","t":56.084,"r":2.9},{"s":"21666","t":56.087,"r":2.7},{"s":"21666","t":56.090,"r":2.8},{"s":"21666","t":56.095,"r":0.7},{"s":"21666","t":56.098,"r":2.8},{"s":"21666","t":56.101,"r":2.9},{"s":"21666","t":56.104,"r":2.7},{"s":"21666","t":56.107,"r":2.9},{"s":"21666","t":56.110,"r":2.8},{"s":"21666","t":56.113,"r":2.6},{"s":"21666","t":56.116,"r":2.9},{"s":"21666","t":56.119,"r":2.7},{"s":"21666","t":56.122,"r":2.8},{"s":"21666","t":56.125,"r":2.7},{"s":"21666","t":56.128,"r":2.9},{"s":"21666","t":56.132,"r":2.8}
]
},
"vconcat":[
{
 "width":1082,"height":300,
 "data":{"name":"top"},
 "layer":[
  {"mark":{"type":"line","clip":true,"strokeWidth":1.1},
   "encoding":{
    "x":{"field":"t","type":"quantitative","scale":{"domain":[-0.11,4.455],"nice":false,"zero":false},"axis":{"orient":"bottom","values":[0,0.5,1,1.5,2,2.5,3,3.5,4],"format":"~g","title":"Time (MJD-58280.8616)","titlePadding":12,"labelFont":"Liberation Serif","labelFontSize":17,"labelColor":"#222","titleFont":"Liberation Serif","titleFontSize":18}},
    "y":{"field":"r","type":"quantitative","scale":{"domain":[0.5,17],"nice":false,"zero":false},"axis":{"orient":"left","values":[2,4,6,8,10,12,14,16],"format":"d","title":"1st-ord. MEG+HEG count/rate [0.3-10 keV]","titlePadding":20,"labelFont":"Liberation Serif","labelFontSize":17,"labelColor":"#222","titleFont":"Liberation Serif","titleFontSize":18}},
    "color":{"field":"s","type":"nominal","scale":{"domain":["20171","21103","21104","21105"],"range":["#ff0000","#a52a2a","#0000ff","#000000"]},"legend":{"orient":"right","offset":18,"labelFont":"Liberation Serif","labelFontSize":18}}
   }},
  {"mark":{"type":"point","opacity":0},
   "encoding":{
    "x":{"field":"t","type":"quantitative","scale":{"domain":[-0.11,4.455],"nice":false,"zero":false},"axis":{"orient":"top","values":[0,0.5,1,1.5,2,2.5,3,3.5,4],"labels":false,"title":null}},
    "y":{"field":"r","type":"quantitative","scale":{"domain":[0.5,17],"nice":false,"zero":false},"axis":{"orient":"right","values":[2,4,6,8,10,12,14,16],"labels":false,"title":null}}
   }}
 ],
 "resolve":{"axis":{"x":"independent","y":"independent"}}
},
{
 "width":1090,"height":302,
 "data":{"name":"bottom"},
 "layer":[
  {"mark":{"type":"line","clip":true,"strokeWidth":1.1},
   "encoding":{
    "x":{"field":"t","type":"quantitative","scale":{"domain":[49.195,56.305],"nice":false,"zero":false},"axis":{"orient":"bottom","values":[50,51,52,53,54,55,56],"format":"d","title":"Time (MJD 58280.8616)","titlePadding":12,"labelFont":"Liberation Serif","labelFontSize":17,"labelColor":"#222","titleFont":"Liberation Serif","titleFontSize":18}},
    "y":{"field":"r","type":"quantitative","scale":{"domain":[0.5,17],"nice":false,"zero":false},"axis":{"orient":"left","values":[2,4,6,8,10,12,14,16],"format":"d","title":"1st-ord. MEG+HEG count/rate [0.3-10 keV]","titlePadding":20,"labelFont":"Liberation Serif","labelFontSize":17,"labelColor":"#222","titleFont":"Liberation Serif","titleFontSize":18}},
    "color":{"field":"s","type":"nominal","scale":{"domain":["20172","21662","21663","21664","21106","21666"],"range":["#ff0000","#a52a2a","#0000ff","#000000","#ffa500","#a47cf0"]},"legend":{"orient":"right","offset":10,"labelFont":"Liberation Serif","labelFontSize":18}}
   }},
  {"mark":{"type":"point","opacity":0},
   "encoding":{
    "x":{"field":"t","type":"quantitative","scale":{"domain":[49.195,56.305],"nice":false,"zero":false},"axis":{"orient":"top","values":[50,51,52,53,54,55,56],"labels":false,"title":null}},
    "y":{"field":"r","type":"quantitative","scale":{"domain":[0.5,17],"nice":false,"zero":false},"axis":{"orient":"right","values":[2,4,6,8,10,12,14,16],"labels":false,"title":null}}
   }}
 ],
 "resolve":{"axis":{"x":"independent","y":"independent"}}
}
],
"resolve":{"scale":{"color":"independent","x":"independent"}},
"spacing":14
}
